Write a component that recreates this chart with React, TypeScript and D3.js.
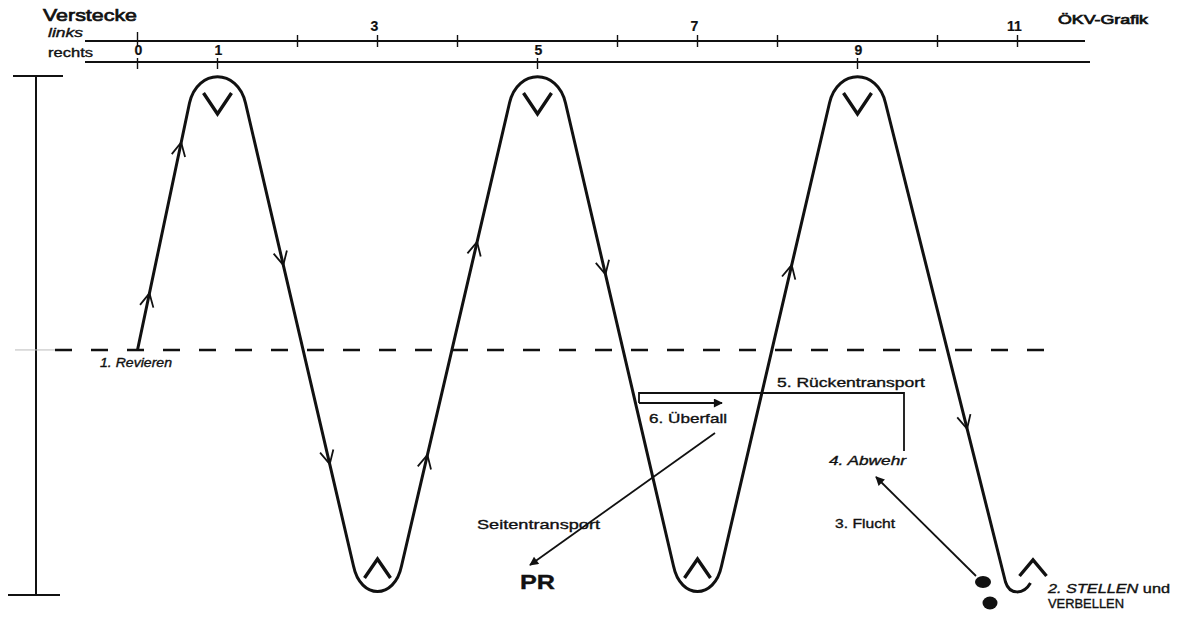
import React, { useEffect, useRef } from "react";
import * as d3 from "d3";

const WIDTH = 1195;
const HEIGHT = 617;

// Verstecke (hides) on the two rulers
const linksTicks = [0, 2, 3, 4, 6, 7, 8, 10, 11];
const linksLabels = [3, 7, 11];
const rechtsTicks = [0, 1, 5, 9];
const rechtsLabels = [0, 1, 5, 9];

// route of the dog: hide number and depth (0 = hides, 100 = handler side)
const routeHides = [0, 1, 3, 5, 7, 9, 11];
const routeDepth = [53, 0, 100, 0, 100, 0, 100];
const revierDepth = 53;

// running direction arrows: which leg, where along it
const arrowLegs = [0, 0, 1, 1, 2, 2, 3, 4, 5];
const arrowPos = [0.23, 0.84, 0.35, 0.78, 0.24, 0.7, 0.37, 0.65, 0.68];

const FONT = "Arial, 'Liberation Sans', sans-serif";

const App: React.FC = () => {
  const svgRef = useRef<SVGSVGElement | null>(null);

  useEffect(() => {
    document.body.style.margin = "0";
    if (!svgRef.current) return;
    const svg = d3.select(svgRef.current);
    svg.selectAll("*").remove();

    const x = d3.scaleLinear().domain([0, 11]).range([137.5, 1017.5]);
    const y = d3.scaleLinear().domain([0, 100]).range([77, 592]);

    svg.append("rect").attr("width", WIDTH).attr("height", HEIGHT).attr("fill", "#fff");

    const defs = svg.append("defs");
    defs.append("marker")
      .attr("id", "head")
      .attr("viewBox", "0 0 10 10")
      .attr("refX", 9).attr("refY", 5)
      .attr("markerWidth", 12).attr("markerHeight", 9)
      .attr("markerUnits", "userSpaceOnUse")
      .attr("orient", "auto-start-reverse")
      .append("path").attr("d", "M0,0 L10,5 L0,10 Z").attr("fill", "#111");

    // ---- rulers
    const linksY = 41, rechtsY = 62;
    const ruler = svg.append("g").attr("stroke", "#111").attr("stroke-width", 1.8);
    ruler.append("line").attr("x1", 85).attr("x2", 1085).attr("y1", linksY).attr("y2", linksY);
    ruler.append("line").attr("x1", 85).attr("x2", 1090).attr("y1", rechtsY).attr("y2", rechtsY);
    ruler.selectAll(".lt").data(linksTicks).enter().append("line")
      .attr("x1", (d) => x(d)).attr("x2", (d) => x(d))
      .attr("y1", (d) => (d === 0 ? 32 : 35)).attr("y2", linksY + 6).attr("stroke-width", 1.4);
    ruler.selectAll(".rt").data(rechtsTicks).enter().append("line")
      .attr("x1", (d) => x(d)).attr("x2", (d) => x(d))
      .attr("y1", rechtsY - 4).attr("y2", rechtsY + 7).attr("stroke-width", 1.4);

    const txt = svg.append("g").attr("font-family", FONT).attr("fill", "#111")
      .attr("stroke", "#111").attr("stroke-width", 0.35);
    txt.selectAll(".ll").data(linksLabels).enter().append("text")
      .attr("x", (d) => x(d) - 3).attr("y", 31).attr("text-anchor", "middle")
      .attr("font-size", 14).attr("font-weight", "bold").attr("stroke-width", 0.2).text((d) => String(d));
    txt.selectAll(".rl").data(rechtsLabels).enter().append("text")
      .attr("x", (d) => x(d) + 1).attr("y", 55).attr("text-anchor", "middle")
      .attr("font-size", 14).attr("font-weight", "bold").attr("stroke-width", 0.2).text((d) => String(d));

    const label = (tx: number, ty: number, size: number, len: number, s: string, style = "normal") =>
      txt.append("text").attr("x", tx).attr("y", ty).attr("font-size", size)
        .attr("font-style", style).attr("textLength", len).attr("lengthAdjust", "spacingAndGlyphs").text(s);

    label(43, 21, 17, 94, "Verstecke").attr("stroke-width", 0.7);
    label(48, 37, 12, 35, "links", "italic");
    label(48, 57, 12, 45, "rechts");
    label(1058, 24, 12.5, 90, "ÖKV-Grafik").attr("stroke-width", 0.7);

    // ---- left field bar
    const bar = svg.append("g").attr("stroke", "#111").attr("stroke-width", 2);
    bar.append("line").attr("x1", 36).attr("x2", 36).attr("y1", y(0) - 1).attr("y2", y(100) + 3);
    bar.append("line").attr("x1", 13).attr("x2", 63).attr("y1", y(0) - 1).attr("y2", y(0) - 1);
    bar.append("line").attr("x1", 8).attr("x2", 60).attr("y1", y(100) + 3).attr("y2", y(100) + 3);

    // ---- Revier line
    const ry = y(revierDepth);
    svg.append("line").attr("x1", 15).attr("x2", 55).attr("y1", ry).attr("y2", ry)
      .attr("stroke", "#bbb").attr("stroke-width", 1);
    svg.append("line").attr("x1", 55).attr("x2", 1045).attr("y1", ry).attr("y2", ry)
      .attr("stroke", "#111").attr("stroke-width", 2.6).attr("stroke-dasharray", "17 19");

    // ---- route path
    type P = [number, number];
    const start: P = [x(routeHides[0]), y(routeDepth[0])];
    const turns = routeHides.slice(1).map((h, i) => {
      const cx = x(h);
      const d = routeDepth[i + 1];
      const last = i === routeHides.length - 2;
      if (d === 0) {
        const t = y(0);
        return { cx, peak: true, last: false, inS: [cx - 28, t + 26] as P, c1: [cx - 20, t - 9] as P, c2: [cx + 20, t - 9] as P, outS: [cx + 28, t + 26] as P };
      }
      const b = y(100);
      if (last) {
        return { cx, peak: false, last, inS: [cx - 12, b - 10] as P, c1: [cx - 8, b + 3] as P, c2: [cx + 6, b + 3] as P, outS: [cx + 13, b - 9] as P };
      }
      return { cx, peak: false, last, inS: [cx - 24, b - 26] as P, c1: [cx - 17, b + 8] as P, c2: [cx + 17, b + 8] as P, outS: [cx + 24, b - 26] as P };
    });

    const path = d3.path();
    path.moveTo(start[0], start[1]);
    turns.forEach((t) => {
      path.lineTo(t.inS[0], t.inS[1]);
      path.bezierCurveTo(t.c1[0], t.c1[1], t.c2[0], t.c2[1], t.outS[0], t.outS[1]);
    });
    svg.append("path").attr("d", path.toString()).attr("fill", "none")
      .attr("stroke", "#111").attr("stroke-width", 3).attr("stroke-linejoin", "round");

    // legs for arrows
    const legs = turns.map((t, i) => ({ a: i === 0 ? start : turns[i - 1].outS, b: t.inS }));
    const chevrons = arrowLegs.map((li, k) => {
      const { a, b } = legs[li];
      const f = arrowPos[k];
      const px = a[0] + f * (b[0] - a[0]);
      const py = a[1] + f * (b[1] - a[1]);
      const ang = Math.atan2(b[1] - a[1], b[0] - a[0]);
      const len = 15, spread = (27 * Math.PI) / 180;
      const p1 = [px - len * Math.cos(ang - spread), py - len * Math.sin(ang - spread)];
      const p2 = [px - len * Math.cos(ang + spread), py - len * Math.sin(ang + spread)];
      return `M${p1[0]},${p1[1]}L${px},${py}L${p2[0]},${p2[1]}`;
    });
    svg.append("g").selectAll("path").data(chevrons).enter().append("path")
      .attr("d", (d) => d).attr("fill", "none").attr("stroke", "#111").attr("stroke-width", 1.8);

    // V / Λ marks at hides
    const marks = turns.map((t) => {
      if (t.peak) {
        const top = y(0);
        return `M${t.cx - 14},${top + 16}L${t.cx},${top + 37}L${t.cx + 14},${top + 16}`;
      }
      const b = y(100);
      if (t.last) return `M${t.cx + 2},${b - 16}L${t.cx + 15.5},${b - 32}L${t.cx + 29},${b - 16}`;
      return `M${t.cx - 13},${b - 14}L${t.cx},${b - 33}L${t.cx + 13},${b - 14}`;
    });
    svg.append("g").selectAll("path").data(marks).enter().append("path")
      .attr("d", (d) => d).attr("fill", "none").attr("stroke", "#111").attr("stroke-width", 3.4);

    // ---- annotations
    const ann = svg.append("g").attr("stroke", "#111").attr("fill", "none").attr("stroke-width", 1.8);
    ann.append("path").attr("d", "M639,403 L639,393 L904,393 L904,451");
    ann.append("line").attr("x1", 639).attr("x2", 722).attr("y1", 403).attr("y2", 403)
      .attr("stroke-width", 2.2).attr("marker-end", "url(#head)");
    ann.append("line").attr("x1", 715).attr("y1", 433).attr("x2", 530).attr("y2", 565)
      .attr("marker-end", "url(#head)");
    ann.append("line").attr("x1", 976).attr("y1", 576).attr("x2", 876).attr("y2", 477)
      .attr("marker-end", "url(#head)");

    svg.append("ellipse").attr("cx", 983).attr("cy", 582).attr("rx", 8).attr("ry", 6).attr("fill", "#111");
    svg.append("ellipse").attr("cx", 990).attr("cy", 603).attr("rx", 7.5).attr("ry", 6.5).attr("fill", "#111");

    label(100, 367, 12.5, 72, "1. Revieren", "italic");
    label(777, 387, 13, 148, "5. Rückentransport");
    label(649, 423, 13, 78, "6. Überfall");
    label(477, 529, 13, 123, "Seitentransport");
    label(520, 589, 19.5, 35, "PR").attr("font-weight", "bold");
    label(829, 465, 13, 77, "4. Abwehr", "italic");
    label(835, 528, 13, 60, "3. Flucht");
    const st = txt.append("text").attr("x", 1048).attr("y", 593).attr("font-size", 12.5)
      .attr("textLength", 122).attr("lengthAdjust", "spacingAndGlyphs");
    st.append("tspan").attr("font-style", "italic").text("2. STELLEN ");
    st.append("tspan").text("und");
    label(1048, 608, 12.5, 76, "VERBELLEN");
  }, []);

  return <svg ref={svgRef} width={WIDTH} height={HEIGHT} style={{ display: "block" }} />;
};

export default App;
